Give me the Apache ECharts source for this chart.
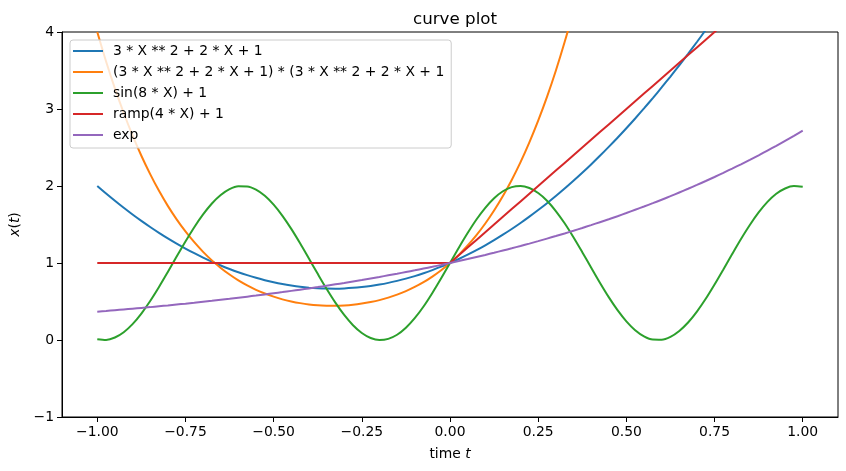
<!DOCTYPE html>
<html>
<head>
<meta charset="utf-8">
<title>curve plot</title>
<script src="https://cdn.jsdelivr.net/npm/echarts@6/dist/echarts.min.js"></script>
<style>
  html, body { margin: 0; padding: 0; background: #fff; }
  #main { width: 846px; height: 471px; }
</style>
</head>
<body>
<div id="main"></div>
<script>
// x samples, step 0.025
var xs = [-1.000,-0.975,-0.950,-0.925,-0.900,-0.875,-0.850,-0.825,-0.800,-0.775,
  -0.750,-0.725,-0.700,-0.675,-0.650,-0.625,-0.600,-0.575,-0.550,-0.525,
  -0.500,-0.475,-0.450,-0.425,-0.400,-0.375,-0.350,-0.325,-0.300,-0.275,
  -0.250,-0.225,-0.200,-0.175,-0.150,-0.125,-0.100,-0.075,-0.050,-0.025,
  0.000,0.025,0.050,0.075,0.100,0.125,0.150,0.175,0.200,0.225,
  0.250,0.275,0.300,0.325,0.350,0.375,0.400,0.425,0.450,0.475,
  0.500,0.525,0.550,0.575,0.600,0.625,0.650,0.675,0.700,0.725,
  0.750,0.775,0.800,0.825,0.850,0.875,0.900,0.925,0.950,0.975,1.000];

var names = ['3 * X ** 2 + 2 * X + 1', '(3 * X ** 2 + 2 * X + 1) * (3 * X ** 2 + 2 * X + 1', 'sin(8 * X) + 1', 'ramp(4 * X) + 1', 'exp'];
var colors = ['#1f77b4', '#ff7f0e', '#2ca02c', '#d62728', '#9467bd'];

var quad = [2.000,1.902,1.808,1.717,1.630,1.547,1.468,1.392,1.320,1.252,
  1.188,1.127,1.070,1.017,0.968,0.922,0.880,0.842,0.808,0.777,
  0.750,0.727,0.708,0.692,0.680,0.672,0.668,0.667,0.670,0.677,
  0.688,0.702,0.720,0.742,0.768,0.797,0.830,0.867,0.908,0.952,
  1.000,1.052,1.108,1.167,1.230,1.297,1.368,1.442,1.520,1.602,
  1.688,1.777,1.870,1.967,2.068,2.172,2.280,2.392,2.508,2.627,
  2.750,2.877,3.008,3.142,3.280,3.422,3.568,3.717,3.870,4.027,
  4.188,4.352,4.520,4.692,4.868,5.047,5.230,5.417,5.608,5.802,6.000];
var quadSq = [4.000,3.617,3.267,2.948,2.657,2.393,2.154,1.937,1.742,1.567,
  1.410,1.270,1.145,1.034,0.936,0.850,0.774,0.709,0.652,0.604,
  0.563,0.528,0.501,0.479,0.462,0.451,0.446,0.445,0.449,0.458,
  0.473,0.493,0.518,0.550,0.589,0.635,0.689,0.751,0.824,0.906,
  1.000,1.106,1.227,1.362,1.513,1.682,1.870,2.079,2.310,2.566,
  2.848,3.157,3.497,3.869,4.275,4.717,5.198,5.721,6.288,6.900,
  7.563,8.276,9.045,9.871,10.758,11.709,12.727,13.815,14.977,16.216,
  17.535,18.939,20.430,22.014,23.692,25.471,27.353,29.343,31.444,33.662,36.000];
var sinv = [0.011,0.001,0.032,0.101,0.206,0.343,0.506,0.688,0.883,1.083,
  1.279,1.465,1.631,1.773,1.883,1.959,1.996,1.994,1.952,1.872,
  1.757,1.612,1.443,1.256,1.058,0.859,0.665,0.485,0.325,0.192,
  0.091,0.026,0.000,0.015,0.068,0.159,0.283,0.435,0.611,0.801,
  1.000,1.199,1.389,1.565,1.717,1.841,1.932,1.985,2.000,1.974,
  1.909,1.809,1.675,1.516,1.335,1.141,0.942,0.744,0.557,0.388,
  0.243,0.128,0.048,0.006,0.004,0.041,0.117,0.227,0.369,0.535,
  0.721,0.917,1.117,1.312,1.494,1.657,1.794,1.899,1.968,1.999,1.989];
var ramp = [1,1,1,1,1,1,1,1,1,1,
  1,1,1,1,1,1,1,1,1,1,
  1,1,1,1,1,1,1,1,1,1,
  1,1,1,1,1,1,1,1,1,1,
  1.0,1.1,1.2,1.3,1.4,1.5,1.6,1.7,1.8,1.9,
  2.0,2.1,2.2,2.3,2.4,2.5,2.6,2.7,2.8,2.9,
  3.0,3.1,3.2,3.3,3.4,3.5,3.6,3.7,3.8,3.9,
  4.0,4.1,4.2,4.3,4.4,4.5,4.6,4.7,4.8,4.9,5.0];
var expv = [0.368,0.377,0.387,0.397,0.407,0.417,0.427,0.438,0.449,0.461,
  0.472,0.484,0.497,0.509,0.522,0.535,0.549,0.563,0.577,0.592,
  0.607,0.622,0.638,0.654,0.670,0.687,0.705,0.723,0.741,0.760,
  0.779,0.799,0.819,0.840,0.861,0.883,0.905,0.928,0.951,0.975,
  1.000,1.025,1.051,1.078,1.105,1.133,1.162,1.191,1.221,1.252,
  1.284,1.317,1.350,1.384,1.419,1.455,1.492,1.530,1.568,1.608,
  1.649,1.691,1.733,1.777,1.822,1.868,1.916,1.964,2.014,2.065,
  2.117,2.171,2.226,2.282,2.340,2.399,2.460,2.522,2.586,2.651,2.718];

var xTicks = [-1, -0.75, -0.5, -0.25, 0, 0.25, 0.5, 0.75, 1];
var allY = [quad, quadSq, sinv, ramp, expv];

var font = 'DejaVu Sans';
var fs = 13.9;

function pairs(ys) {
  var out = [];
  for (var i = 0; i < xs.length; i++) {
    out.push([xs[i], ys[i]]);
  }
  return out;
}

// matplotlib style minus
function minus(s) {
  return String(s).replace('-', '\u2212');
}

var series = [];
for (var k = 0; k < names.length; k++) {
  series.push({
    name: names[k],
    type: 'line',
    data: pairs(allY[k]),
    // ramp keeps its kink at 0
    smooth: k == 3 ? false : 0.3,
    symbol: 'none',
    clip: true,
    lineStyle: { color: colors[k], width: 2 },
    itemStyle: { color: colors[k] },
    emphasis: { disabled: true }
  });
}

var myChart = echarts.init(document.getElementById('main'), null, { renderer: 'canvas' });
myChart.setOption({
  animation: false,
  backgroundColor: '#fff',
  textStyle: { fontFamily: font },
  title: {
    text: 'curve plot',
    left: 450,
    top: 6,
    textAlign: 'center',
    textStyle: { fontFamily: font, fontSize: 16.7, fontWeight: 'normal', color: '#000' }
  },
  grid: {
    left: 62, right: 8, top: 32, bottom: 54,
    show: true, borderColor: '#000', borderWidth: 1, backgroundColor: 'transparent'
  },
  legend: {
    orient: 'vertical',
    left: 70,
    top: 40,
    padding: [4, 7, 6, 3],
    itemGap: 7,
    itemWidth: 30,
    itemHeight: 2,
    icon: 'rect',
    backgroundColor: 'rgba(255,255,255,0.8)',
    borderColor: '#cccccc',
    borderWidth: 1,
    borderRadius: 3,
    z: 10,
    textStyle: { fontFamily: font, fontSize: fs, color: '#000', lineHeight: 14, padding: [0, 0, 0, 5] },
    data: names
  },
  xAxis: {
    type: 'value',
    min: -1.1,
    max: 1.1,
    name: '{n|time }{t|t}',
    nameLocation: 'middle',
    nameGap: 30,
    nameTextStyle: {
      rich: {
        n: { fontFamily: font, fontSize: fs, color: '#000' },
        t: { fontFamily: font, fontSize: fs, color: '#000', fontStyle: 'italic' }
      }
    },
    axisLine: { onZero: false, lineStyle: { color: '#000', width: 1 } },
    axisTick: { show: true, length: 5, customValues: xTicks, lineStyle: { color: '#000' } },
    axisLabel: {
      customValues: xTicks,
      margin: 8,
      fontFamily: font, fontSize: fs, color: '#000',
      formatter: function (v) { return minus(v.toFixed(2)); }
    },
    splitLine: { show: false }
  },
  yAxis: {
    type: 'value',
    min: -1,
    max: 4,
    interval: 1,
    name: '{i|x}{n|(}{i|t}{n|)}',
    nameLocation: 'middle',
    nameGap: 36,
    nameTextStyle: {
      rich: {
        n: { fontFamily: font, fontSize: fs, color: '#000' },
        i: { fontFamily: font, fontSize: fs, color: '#000', fontStyle: 'italic' }
      }
    },
    axisLine: { show: true, onZero: false, lineStyle: { color: '#000', width: 1 } },
    axisTick: { show: true, length: 5, lineStyle: { color: '#000' } },
    axisLabel: {
      margin: 8,
      fontFamily: font, fontSize: fs, color: '#000',
      formatter: function (v) { return minus(v); }
    },
    splitLine: { show: false }
  },
  series: series
});
</script>
</body>
</html>
